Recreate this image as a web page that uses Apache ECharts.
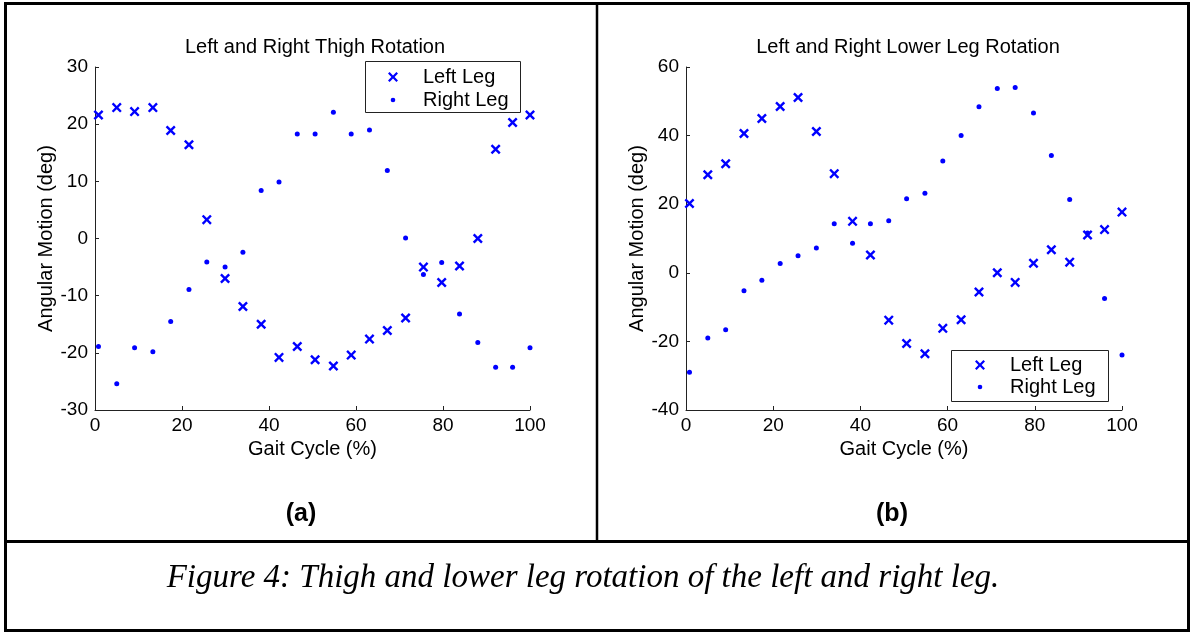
<!DOCTYPE html>
<html>
<head>
<meta charset="utf-8">
<script src="https://cdn.jsdelivr.net/npm/echarts@6/dist/echarts.min.js"></script>
<style>
html,body{margin:0;padding:0;background:#fff;}
#chart{width:1192px;height:632px;}
</style>
</head>
<body>
<div id="chart"></div>
<script>
// Gait cycle positions (%)
var gaitCycle = [0.8, 5.0, 9.1, 13.3, 17.4, 21.6, 25.7, 29.9, 34.0, 38.2, 42.3, 46.5, 50.6, 54.8, 58.9, 63.1, 67.2, 71.4, 75.5, 79.7, 83.8, 88.0, 92.1, 96.0, 100.0];
// (a) Thigh rotation (deg)
var thighLeft = [21.6, 22.9, 22.2, 22.9, 18.9, 16.4, 3.3, -7.0, -11.9, -15.0, -20.8, -18.9, -21.2, -22.3, -20.4, -17.6, -16.1, -13.9, -5.0, -7.7, -4.8, 0.0, 15.6, 20.3, 21.6];
var thighRight = [-18.9, -25.4, -19.1, -19.8, -14.5, -8.9, -4.1, -5.0, -2.4, 8.4, 9.9, 18.3, 18.3, 22.1, 18.3, 19.0, 11.9, 0.1, -6.3, -4.2, -13.2, -18.2, -22.5, -22.5, -19.1];
// (b) Lower leg rotation (deg)
var lowerLeft = [20.2, 28.6, 31.8, 40.6, 45.0, 48.5, 51.1, 41.2, 28.9, 15.0, 5.2, -13.8, -20.6, -23.6, -16.2, -13.7, -5.6, 0.0, -2.8, 2.8, 6.7, 3.1, 11.0, 12.6, 17.7];
var lowerRight = [-29.0, -19.0, -16.6, -5.2, -2.2, 2.7, 5.0, 7.2, 14.3, 8.6, 14.3, 15.2, 21.6, 23.2, 32.6, 40.0, 48.4, 53.7, 54.0, 46.6, 34.2, 21.4, 11.6, -7.5, -24.0];
// Axis ticks
var xTicks = {min: 0, max: 100, interval: 20};
var yTicksA = {min: -30, max: 30, interval: 10};
var yTicksB = {min: -40, max: 60, interval: 20};
var seriesNames = ['Left Leg', 'Right Leg'];
var titles = ['Left and Right Thigh Rotation', 'Left and Right Lower Leg Rotation'];
var panelLabels = ['(a)', '(b)'];
var caption = 'Figure 4: Thigh and lower leg rotation of the left and right leg.';

function pairs(xs, ys) { return xs.map(function (x, i) { return [x, ys[i]]; }); }

var FONT = 'Liberation Sans, Arial, sans-serif';
var BLUE = '#0000ff';
var xPath = 'path://M0,1.7L1.7,0L5,3.3L8.3,0L10,1.7L6.7,5L10,8.3L8.3,10L5,6.7L1.7,10L0,8.3L3.3,5Z';
var xLegendPath = 'path://M30,5M0,1.6L1.6,0L5,3.4L8.4,0L10,1.6L6.6,5L10,8.4L8.4,10L5,6.6L1.6,10L0,8.4L3.4,5Z';
var dotLegendPath = 'path://M30,5M0,0M10,10M5,2.7A2.3,2.3,0,1,1,5,7.3A2.3,2.3,0,1,1,5,2.7Z';

function xAxisCfg(gi) {
  return {
    gridIndex: gi, type: 'value', min: xTicks.min, max: xTicks.max, interval: xTicks.interval,
    name: 'Gait Cycle (%)', nameLocation: 'middle', nameGap: 25,
    nameTextStyle: {fontFamily: FONT, fontSize: 20, color: '#000'},
    axisLine: {show: true, onZero: false, lineStyle: {color: '#222', width: 1}},
    axisTick: {show: true, inside: true, length: 4, lineStyle: {color: '#222'}},
    axisLabel: {fontFamily: FONT, fontSize: 19, color: '#000', margin: 6},
    splitLine: {show: false}
  };
}
function yAxisCfg(gi, t) {
  return {
    gridIndex: gi, type: 'value', min: t.min, max: t.max, interval: t.interval,
    name: 'Angular Motion (deg)', nameLocation: 'middle', nameGap: 35,
    nameTextStyle: {fontFamily: FONT, fontSize: 20, color: '#000'},
    axisLine: {show: true, onZero: false, lineStyle: {color: '#222', width: 1}},
    axisTick: {show: true, inside: true, length: 4, lineStyle: {color: '#222'}},
    axisLabel: {fontFamily: FONT, fontSize: 19, color: '#000', margin: 7},
    splitLine: {show: false}
  };
}
function legendCfg(left, top, gap) {
  return {
    orient: 'vertical', left: left, top: top, padding: 0, itemGap: gap,
    itemWidth: 30, itemHeight: 10,
    textStyle: {fontFamily: FONT, fontSize: 20, color: '#000', lineHeight: 20, padding: [0, 0, 0, 0]},
    data: [{name: seriesNames[0], icon: xLegendPath}, {name: seriesNames[1], icon: dotLegendPath}],
    selectedMode: false
  };
}
function scatter(name, gi, data, isX) {
  return {
    name: name, type: 'scatter', xAxisIndex: gi, yAxisIndex: gi,
    data: data, symbol: isX ? xPath : 'circle', symbolSize: isX ? 10 : 5,
    itemStyle: {color: BLUE, opacity: 1}, silent: true, animation: false
  };
}

var chart = echarts.init(document.getElementById('chart'), null, {renderer: 'canvas'});
chart.setOption({
  backgroundColor: '#fff',
  animation: false,
  title: [
    {text: titles[0], left: 310, top: 32, textAlign: 'center', textStyle: {fontFamily: FONT, fontSize: 20, fontWeight: 'normal', color: '#000'}},
    {text: titles[1], left: 903, top: 32, textAlign: 'center', textStyle: {fontFamily: FONT, fontSize: 20, fontWeight: 'normal', color: '#000'}}
  ],
  grid: [
    {left: 95, top: 67, width: 435, height: 343, containLabel: false},
    {left: 686, top: 67, width: 436, height: 343, containLabel: false}
  ],
  xAxis: [xAxisCfg(0), xAxisCfg(1)],
  yAxis: [yAxisCfg(0, yTicksA), yAxisCfg(1, yTicksB)],
  legend: [legendCfg(388, 67, 3), legendCfg(975, 355, 2)],
  series: [
    scatter(seriesNames[0], 0, pairs(gaitCycle, thighLeft), true),
    scatter(seriesNames[1], 0, pairs(gaitCycle, thighRight), false),
    scatter(seriesNames[0], 1, pairs(gaitCycle, lowerLeft), true),
    scatter(seriesNames[1], 1, pairs(gaitCycle, lowerRight), false)
  ],
  graphic: [
    {type: 'rect', shape: {x: 365.5, y: 61.5, width: 155, height: 51}, style: {fill: null, stroke: '#222', lineWidth: 1}, z: 10},
    {type: 'rect', shape: {x: 951.5, y: 350.5, width: 157, height: 51}, style: {fill: null, stroke: '#222', lineWidth: 1}, z: 10},
    {type: 'rect', shape: {x: 5.5, y: 3.5, width: 1183, height: 627}, style: {fill: null, stroke: '#000', lineWidth: 3}, z: 20},
    {type: 'line', shape: {x1: 5.5, y1: 541.5, x2: 1188.5, y2: 541.5}, style: {stroke: '#000', lineWidth: 3}, z: 20},
    {type: 'line', shape: {x1: 597, y1: 3.5, x2: 597, y2: 541.5}, style: {stroke: '#000', lineWidth: 2.5}, z: 20},
    {type: 'text', x: 301, y: 514, style: {text: panelLabels[0], font: 'bold 25px ' + FONT, fill: '#000', textAlign: 'center', textVerticalAlign: 'middle'}, z: 20},
    {type: 'text', x: 892, y: 514, style: {text: panelLabels[1], font: 'bold 25px ' + FONT, fill: '#000', textAlign: 'center', textVerticalAlign: 'middle'}, z: 20},
    {type: 'text', x: 583, y: 578, style: {text: caption, font: 'italic 33px Liberation Serif, Times New Roman, serif', fill: '#000', textAlign: 'center', textVerticalAlign: 'middle'}, z: 20}
  ]
});
</script>
</body>
</html>
